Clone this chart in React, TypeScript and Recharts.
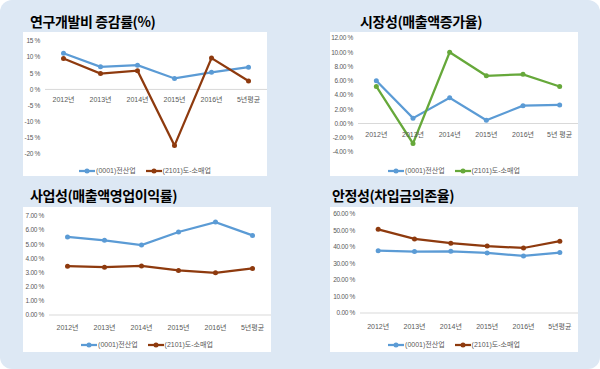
import { LineChart, Line, XAxis, YAxis, ReferenceLine, ReferenceDot, Legend } from 'recharts';

const years = ['2012년', '2013년', '2014년', '2015년', '2016년', '5년평균'];
const yearsMkt = ['2012년', '2013년', '2014년', '2015년', '2016년', '5년 평균'];

const allName = '(0001)전산업';
const retailName = '(2101)도-소매업';

// 연구개발비 증감률
const rndAll = [11.2, 7.0, 7.5, 3.4, 5.3, 6.9];
const rndRetail = [9.6, 4.9, 5.8, -17.4, 9.7, 2.6];
const rndTicks = [-20, -15, -10, -5, 0, 5, 10, 15];

// 시장성
const mktAll = [6.0, 0.75, 3.6, 0.45, 2.5, 2.6];
const mktRetail = [5.2, -2.8, 10.0, 6.7, 6.9, 5.2];
const mktTicks = [-4, -2, 0, 2, 4, 6, 8, 10, 12];

// 사업성
const profitAll = [5.52, 5.28, 4.95, 5.87, 6.57, 5.63];
const profitRetail = [3.45, 3.38, 3.47, 3.15, 2.98, 3.29];
const profitTicks = [0, 1, 2, 3, 4, 5, 6, 7];

// 안정성
const debtAll = [37.8, 37.2, 37.4, 36.4, 34.6, 36.6];
const debtRetail = [50.7, 44.9, 42.3, 40.6, 39.4, 43.5];
const debtTicks = [0, 10, 20, 30, 40, 50, 60];

const BLUE = '#5b9bd5';
const BROWN = '#8e3a0e';
const GREEN = '#66a83a';
const TXT = '#595959';
const FONT = '"Liberation Sans", "Noto Sans CJK KR", sans-serif';

type PanelProps = {
  title: string;
  titleX: number;
  titleY: number;
  box: { x: number; y: number; w: number; h: number };
  plotLeft: number;
  plotTop: number;
  plotBottom: number;
  legendGap: number;
  labelGap: number;
  cats: string[];
  a: number[];
  b: number[];
  bColor: string;
  ticks: number[];
  fmt: (v: number) => string;
};

function Panel(p: PanelProps) {
  const rows = p.cats.map((c, i) => ({ year: c, all: p.a[i], retail: p.b[i] }));
  const legendH = p.box.h - p.plotBottom;
  const items = [
    { name: allName, color: BLUE },
    { name: retailName, color: p.bColor },
  ];
  const yTick = (t: any) => (
    <text x={t.x} y={t.y} dy={2.3} textAnchor="end" fontSize={6.5} letterSpacing={-0.3} fill={TXT} fontFamily={FONT}>
      {p.fmt(t.payload.value)}
    </text>
  );
  return (
    <>
      <div
        style={{
          position: 'absolute',
          left: p.titleX,
          top: p.titleY,
          fontFamily: '"Noto Sans CJK KR", sans-serif',
          fontWeight: 700,
          fontSize: 14,
          lineHeight: '16px',
          letterSpacing: -0.4,
          color: '#000',
          whiteSpace: 'nowrap',
        }}
      >
        {p.title}
      </div>
      <div style={{ position: 'absolute', left: p.box.x, top: p.box.y, background: '#fff' }}>
        <LineChart
          width={p.box.w}
          height={p.box.h}
          data={rows}
          margin={{ top: p.plotTop, right: 0, left: 0, bottom: 0 }}
        >
          <XAxis dataKey="year" scale="band" hide />
          <YAxis
            width={p.plotLeft}
            domain={[p.ticks[0], p.ticks[p.ticks.length - 1]]}
            ticks={p.ticks}
            interval={0}
            axisLine={false}
            tickLine={false}
            tickSize={0}
            tickMargin={5}
            tick={yTick}
          />
          <ReferenceLine y={0} stroke="#d9d9d9" strokeWidth={1} />
          {p.cats.map((c) => (
            <ReferenceDot
              key={c}
              x={c}
              y={0}
              r={0}
              fill="none"
              stroke="none"
              label={{ value: c, position: 'bottom', offset: p.labelGap, fontSize: 7, fill: TXT, fontFamily: FONT }}
            />
          ))}
          <Line
            type="linear"
            dataKey="all"
            name={allName}
            stroke={BLUE}
            strokeWidth={2.25}
            dot={{ r: 2.5, fill: BLUE, stroke: BLUE, strokeWidth: 0 }}
            isAnimationActive={false}
          />
          <Line
            type="linear"
            dataKey="retail"
            name={retailName}
            stroke={p.bColor}
            strokeWidth={2.25}
            dot={{ r: 2.5, fill: p.bColor, stroke: p.bColor, strokeWidth: 0 }}
            isAnimationActive={false}
          />
          <Legend
            verticalAlign="bottom"
            height={legendH}
            content={() => (
              <div
                style={{
                  height: legendH,
                  display: 'flex',
                  justifyContent: 'center',
                  alignItems: 'flex-start',
                  paddingTop: p.legendGap - 5,
                  boxSizing: 'border-box',
                  fontFamily: FONT,
                  fontSize: 7,
                  color: TXT,
                }}
              >
                {items.map((it) => (
                  <div key={it.name} style={{ display: 'flex', alignItems: 'center', margin: '0 5px', lineHeight: '10px' }}>
                    <svg width={16} height={6} style={{ marginRight: 1 }}>
                      <line x1={0} y1={3} x2={16} y2={3} stroke={it.color} strokeWidth={2.25} />
                      <circle cx={8} cy={3} r={2.5} fill={it.color} />
                    </svg>
                    <span>{it.name}</span>
                  </div>
                ))}
              </div>
            )}
          />
        </LineChart>
      </div>
    </>
  );
}

export default function App() {
  const pct = (v: number) => `${v} %`;
  const pct2 = (v: number) => `${v.toFixed(2)} %`;
  return (
    <div style={{ position: 'absolute', left: 0, top: 0, width: 600, height: 369, background: '#fff' }}>
      <div style={{ position: 'absolute', inset: 0, background: '#dde8f4', borderRadius: 12 }} />
      <Panel
        title="연구개발비 증감률(%)"
        titleX={30}
        titleY={13}
        box={{ x: 23, y: 32, w: 244, h: 144 }}
        plotLeft={22}
        plotTop={9}
        plotBottom={122}
        legendGap={17}
        labelGap={8}
        cats={years}
        a={rndAll}
        b={rndRetail}
        bColor={BROWN}
        ticks={rndTicks}
        fmt={pct}
      />
      <Panel
        title="시장성(매출액증가율)"
        titleX={360}
        titleY={13}
        box={{ x: 330, y: 32, w: 248, h: 144 }}
        plotLeft={28}
        plotTop={6}
        plotBottom={120}
        legendGap={19}
        labelGap={9}
        cats={yearsMkt}
        a={mktAll}
        b={mktRetail}
        bColor={GREEN}
        ticks={mktTicks}
        fmt={pct2}
      />
      <Panel
        title="사업성(매출액영업이익률)"
        titleX={30}
        titleY={187}
        box={{ x: 23, y: 207, w: 248, h: 145 }}
        plotLeft={26}
        plotTop={9}
        plotBottom={108}
        legendGap={30}
        labelGap={10}
        cats={years}
        a={profitAll}
        b={profitRetail}
        bColor={BROWN}
        ticks={profitTicks}
        fmt={pct2}
      />
      <Panel
        title="안정성(차입금의존율)"
        titleX={332}
        titleY={187}
        box={{ x: 330, y: 207, w: 248, h: 145 }}
        plotLeft={30}
        plotTop={7}
        plotBottom={106}
        legendGap={32}
        labelGap={11}
        cats={years}
        a={debtAll}
        b={debtRetail}
        bColor={BROWN}
        ticks={debtTicks}
        fmt={pct2}
      />
    </div>
  );
}
